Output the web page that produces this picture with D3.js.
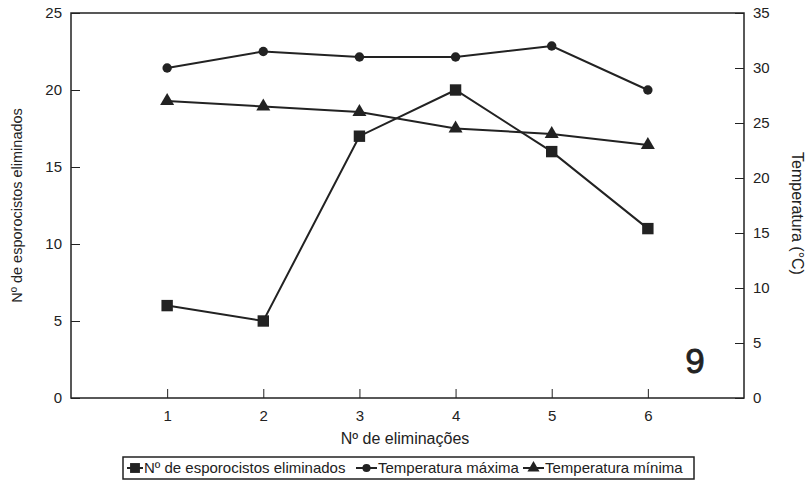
<!DOCTYPE html>
<html>
<head>
<meta charset="utf-8">
<script src="https://cdn.jsdelivr.net/npm/d3@7"></script>
<style>
  body { margin: 0; background: #fff; }
  text { font-family: "Liberation Sans", Arial, sans-serif; fill: #222; }
</style>
</head>
<body>
<svg id="chart" width="811" height="483"></svg>
<script>
// data
var eliminacoes = [1, 2, 3, 4, 5, 6];
var esporocistos = [6, 5, 17, 20, 16, 11];
var tempMaxima = [30, 31.5, 31, 31, 32, 28];
var tempMinima = [27, 26.5, 26, 24.5, 24, 23];
var leftTicks = [0, 5, 10, 15, 20, 25];
var rightTicks = [0, 5, 10, 15, 20, 25, 30, 35];

var svg = d3.select("#chart");
var plotLeft = 71, plotRight = 744, plotTop = 13, plotBottom = 398;
var ink = "#222";

var x = d3.scaleLinear().domain([0, 7]).range([plotLeft, plotRight]);
var yL = d3.scaleLinear().domain([0, 25]).range([plotBottom, plotTop]);
var yR = d3.scaleLinear().domain([0, 35]).range([plotBottom, plotTop]);

// frame
svg.append("rect")
  .attr("x", plotLeft).attr("y", plotTop)
  .attr("width", plotRight - plotLeft).attr("height", plotBottom - plotTop)
  .attr("fill", "none").attr("stroke", ink).attr("stroke-width", 1.5);

function styleAxis(g) {
  g.select(".domain").remove();
  g.selectAll(".tick line").attr("stroke", ink).attr("stroke-width", 1);
  g.selectAll(".tick text").style("font-size", "15px").attr("fill", ink);
}

svg.append("g")
  .attr("transform", "translate(" + plotLeft + ",0)")
  .call(d3.axisLeft(yL).tickValues(leftTicks).tickSizeInner(-9).tickPadding(9))
  .call(styleAxis);

svg.append("g")
  .attr("transform", "translate(" + plotRight + ",0)")
  .call(d3.axisRight(yR).tickValues(rightTicks).tickSizeInner(-9).tickPadding(9))
  .call(styleAxis);

svg.append("g")
  .attr("transform", "translate(0," + plotBottom + ")")
  .call(d3.axisBottom(x).tickValues(eliminacoes).tickFormat(d3.format("d")).tickSizeInner(-9).tickPadding(12))
  .call(styleAxis);

// axis titles
svg.append("text")
  .attr("x", 405).attr("y", 444)
  .attr("text-anchor", "middle").style("font-size", "16px")
  .text("Nº de eliminações");

svg.append("text")
  .attr("transform", "translate(22," + (plotTop + plotBottom) / 2 + ") rotate(-90)")
  .attr("text-anchor", "middle").style("font-size", "14.5px")
  .text("Nº de esporocistos eliminados");

svg.append("text")
  .attr("transform", "translate(792," + ((plotTop + plotBottom) / 2 + 8) + ") rotate(90)")
  .attr("text-anchor", "middle").style("font-size", "16px")
  .text("Temperatura (°C)");

svg.append("text")
  .attr("x", 695).attr("y", 373)
  .attr("text-anchor", "middle").style("font-size", "35px")
  .attr("stroke", ink).attr("stroke-width", 0.8)
  .text("9");

// series
var series = [
  { name: "Nº de esporocistos eliminados", values: esporocistos, y: yL, symbol: d3.symbolSquare, size: 130 },
  { name: "Temperatura máxima", values: tempMaxima, y: yR, symbol: d3.symbolCircle, size: 70 },
  { name: "Temperatura mínima", values: tempMinima, y: yR, symbol: d3.symbolTriangle, size: 85 }
];

series.forEach(function(s) {
  var line = d3.line()
    .x(function(d, i) { return x(eliminacoes[i]); })
    .y(function(d) { return s.y(d); });
  svg.append("path")
    .datum(s.values)
    .attr("d", line)
    .attr("fill", "none").attr("stroke", ink).attr("stroke-width", 2);
  svg.selectAll(null)
    .data(s.values)
    .enter().append("path")
    .attr("transform", function(d, i) { return "translate(" + x(eliminacoes[i]) + "," + s.y(d) + ")"; })
    .attr("d", d3.symbol().type(s.symbol).size(s.size))
    .attr("fill", ink);
});

// legend
var leg = svg.append("g");
leg.append("rect")
  .attr("x", 123).attr("y", 457).attr("width", 571).attr("height", 22)
  .attr("fill", "none").attr("stroke", ink).attr("stroke-width", 1.5);

var legItems = [
  { s: series[0], x0: 127, tx: 144 },
  { s: series[1], x0: 356, tx: 378 },
  { s: series[2], x0: 523, tx: 545 }
];
legItems.forEach(function(it) {
  leg.append("line")
    .attr("x1", it.x0).attr("x2", it.tx - 1)
    .attr("y1", 468).attr("y2", 468)
    .attr("stroke", ink).attr("stroke-width", 2);
  leg.append("path")
    .attr("transform", "translate(" + ((it.x0 + it.tx - 1) / 2) + ",468)")
    .attr("d", d3.symbol().type(it.s.symbol).size(it.s.size * 0.75))
    .attr("fill", ink);
  leg.append("text")
    .attr("x", it.tx).attr("y", 473)
    .style("font-size", "15px")
    .text(it.s.name);
});
</script>
</body>
</html>
